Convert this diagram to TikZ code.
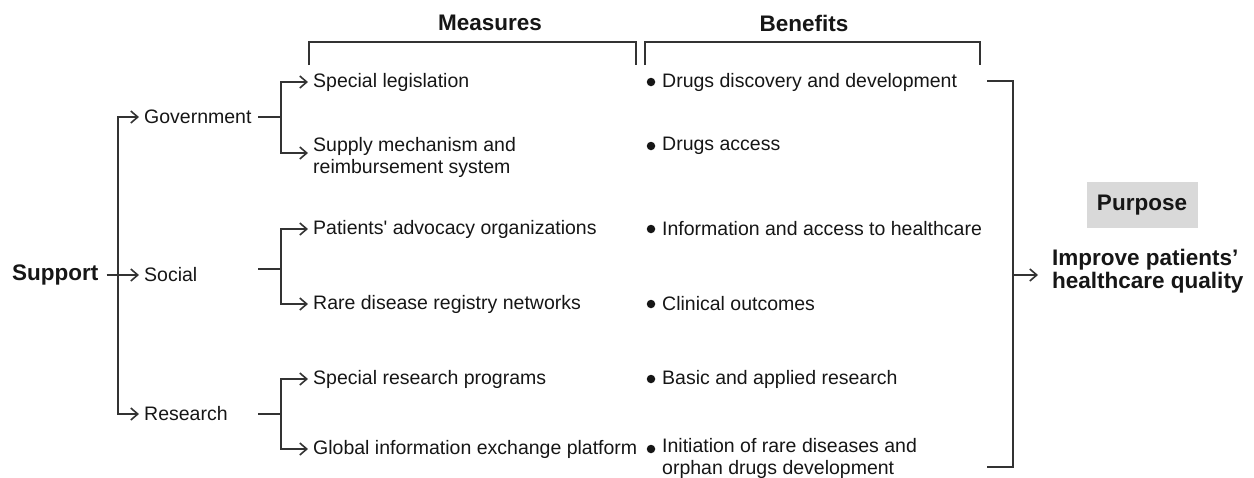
\documentclass[tikz,border=0pt]{standalone}
\usepackage{fontspec}
\setmainfont{Liberation Sans}
\usetikzlibrary{arrows.meta}
\definecolor{ln}{HTML}{333333}
\definecolor{tx}{HTML}{161616}
\definecolor{pbox}{HTML}{D9D9D9}
\begin{document}
\begin{tikzpicture}[x=1pt,y=-1pt,
  txt/.style={anchor=west,inner sep=0pt,text=tx,font=\fontsize{19.5}{22}\selectfont,align=left},
  hdr/.style={inner sep=0pt,text=tx,font=\bfseries\fontsize{22.5}{24}\selectfont,align=left},
  conn/.style={draw=ln,line width=1.8pt},
  arr/.style={conn,shorten >=5pt,-{Straight Barb[length=7pt,width=12pt,line width=1.6pt]}},
  bul/.style={circle,fill=tx,inner sep=0pt,minimum size=8.5pt}]
\useasboundingbox (0,0) rectangle (1254,477);
% headers
\node[hdr] (meas) at (490,23) {Measures};
\node[hdr] (bene) at (804,23) {Benefits};
\draw[conn] (309,65) -- (309,42) -- (636,42) -- (636,65);
\draw[conn] (645,65) -- (645,42) -- (980,42) -- (980,65);
% level 1
\node[hdr,anchor=west] (support) at (12,275) {Support};
\node[txt] (gov) at (144,117) {Government};
\node[txt] (soc) at (144,275) {Social};
\node[txt] (res) at (144,414) {Research};
\coordinate (trunk) at (118,275);
\draw[arr] ([xshift=8pt]support.east) -- (soc.west);
\draw[arr] (trunk) |- (gov.west);
\draw[arr] (trunk) |- (res.west);
% measures
\node[txt] (leg) at (313,82) {Special legislation};
\node[txt] (sup) at (313,157) {Supply mechanism and\\reimbursement system};
\node[txt] (pat) at (313,229) {Patients\textquotesingle\ advocacy organizations};
\node[txt] (rare) at (313,304) {Rare disease registry networks};
\node[txt] (spr) at (313,379) {Special research programs};
\node[txt] (glob) at (313,449) {Global information exchange platform};
\coordinate (gt) at (258,117);
\coordinate (gj) at (281,117);
\coordinate (st) at (258,269);
\coordinate (sj) at (281,269);
\coordinate (rt) at (258,414);
\coordinate (rj) at (281,414);
\draw[conn] (gt) -- (gj);
\draw[conn] (st) -- (sj);
\draw[conn] (rt) -- (rj);
\draw[arr] (gj) |- (leg.west);
\draw[arr] (gj) |- ([yshift=4pt]sup.west);
\draw[arr] (sj) |- (pat.west);
\draw[arr] (sj) |- (rare.west);
\draw[arr] (rj) |- (spr.west);
\draw[arr] (rj) |- (glob.west);
% benefits
\node[bul] (d1) at (651,82) {};
\node[bul] (d2) at (651,146) {};
\node[bul] (d3) at (651,229) {};
\node[bul] (d4) at (651,304) {};
\node[bul] (d5) at (651,379) {};
\node[bul] (d6) at (651,449) {};
\node[txt] (b1) at (662,82) {Drugs discovery and development};
\node[txt] (b2) at (662,146) {Drugs access};
\node[txt] (b3) at (662,229) {Information and access to healthcare};
\node[txt] (b4) at (662,304) {Clinical outcomes};
\node[txt] (b5) at (662,379) {Basic and applied research};
\node[txt,anchor=north west] (b6) at (662,438) {Initiation of rare diseases and\\orphan drugs development};
% right bracket
\coordinate (rtop) at (987,81);
\coordinate (rbot) at (987,467);
\coordinate (rb) at (1013,275);
\draw[conn] (rtop) -- (1013,81) -- (1013,467) -- (rbot);
% purpose
\node[hdr,fill=pbox,minimum width=111pt,minimum height=46pt,align=center] (purp) at (1142,205) {Purpose};
\node[hdr,anchor=west,font=\bfseries\fontsize{22.5}{23}\selectfont] (imp) at (1052,271) {Improve patients’\\healthcare quality};
\draw[arr,shorten >=14pt] (rb) -- (rb -| imp.west);
\end{tikzpicture}
\end{document}
